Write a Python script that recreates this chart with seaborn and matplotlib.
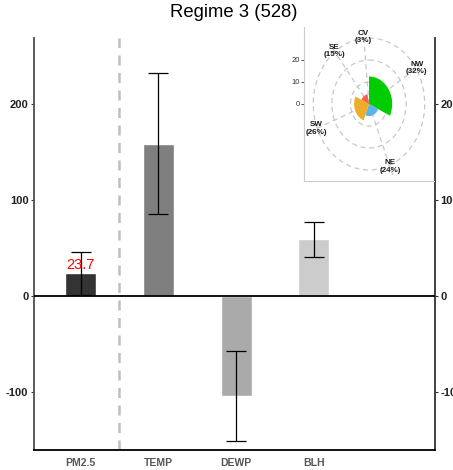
import numpy as np
import matplotlib
matplotlib.use("Agg")
import matplotlib.pyplot as plt
import seaborn as sns

# ---- data ----
categories = ["PM2.5", "TEMP", "DEWP", "BLH"]
means = [23.7, 158.5, -104.0, 59.0]
sds = [22.5, 73.5, 47.0, 18.0]
bar_colors = ["#333333", "#7F7F7F", "#AAAAAA", "#CCCCCC"]
yticks = [-100, 0, 100, 200]

wind_dirs = ["NW", "NE", "SW", "SE", "CV"]
wind_freq = [32, 24, 26, 15, 3]          # percent -> wedge width
wind_value = [12.5, 5.5, 8.0, 4.5, 0.0]  # wedge radius
wind_colors = ["#00CD00", "#5BB5E8", "#EBAE26", "#F5634A", "#9E9E9E"]
radial_ticks = [0, 10, 20]

title = "Regime 3 (528)"

# ---- style ----
sns.set_theme(style="white")
plt.rcParams["font.family"] = ["Liberation Sans", "DejaVu Sans"]

fig = plt.figure(figsize=(4.53, 4.70), dpi=100)
W, H = 453, 470

def box(x0, y0, x1, y1):
    return [x0 / W, 1 - y1 / H, (x1 - x0) / W, (y1 - y0) / H]

ax = fig.add_axes(box(34, 38, 435, 450))
ax.set_zorder(1)

sns.barplot(x=categories, y=means, hue=categories, palette=bar_colors,
            width=0.4, saturation=1, legend=False, ax=ax, errorbar=None)
ax.errorbar(x=np.arange(len(categories)), y=means, yerr=sds, fmt="none",
            ecolor="black", elinewidth=0.9, capsize=7, capthick=0.9, zorder=4)
ax.axhline(0, color="black", lw=1.3, zorder=3)
ax.axvline(0.5, color="#BFBFBF", lw=1.8, dashes=(4, 3), zorder=2)
ax.text(0, means[0] + 1, f"{means[0]}", color="red", ha="center", va="bottom",
        fontsize=10.5, zorder=5)

ax.set_xlim(-0.60, 4.56)
ax.set_ylim(-160.4, 268.75)
ax.set_yticks(yticks)
ax.set_yticklabels([str(t) for t in yticks], fontsize=8, fontweight="bold", color="#222222")
ax.set_xlabel("")
ax.set_ylabel("")
ax.tick_params(axis="x", length=0, pad=6, labelsize=7.5, labelcolor="#555555")
for lab in ax.get_xticklabels():
    lab.set_fontweight("bold")
ax.tick_params(axis="y", length=2.5, width=0.8, color="#333333", pad=1.5, left=True)
ax.spines["top"].set_visible(False)
ax.spines["left"].set_color("#4D4D4D")
ax.spines["left"].set_linewidth(1.3)
ax.spines["right"].set_color("#333333")
ax.spines["right"].set_linewidth(1.3)
ax.spines["bottom"].set_color("black")
ax.spines["bottom"].set_linewidth(1.3)

axr = ax.twinx()
axr.set_ylim(ax.get_ylim())
axr.set_yticks(yticks)
axr.set_yticklabels([str(t) for t in yticks], fontsize=8, fontweight="bold", color="#222222")
axr.tick_params(axis="y", length=2.5, width=0.8, color="#333333", pad=1.5, right=True)
for s in axr.spines.values():
    s.set_visible(False)

fig.text(0.517, 0.974, title, ha="center", va="center", fontsize=13.3, color="black")

# ---- inset wind rose ----
rmax = 35
axb = fig.add_axes(box(304, 27, 434, 181))
axb.set_zorder(2)
axb.set_facecolor("white")
axb.set_xlim(-rmax, rmax)
axb.set_ylim(-rmax, rmax)
axb.set_xticks([])
axb.set_yticks(radial_ticks)
axb.set_yticklabels([str(t) for t in radial_ticks], fontsize=5.5, color="#333333")
axb.tick_params(axis="y", length=2, width=0.6, color="#333333", pad=1, left=True)
axb.grid(False)
for k in ["top", "right"]:
    axb.spines[k].set_visible(False)
for k in ["left", "bottom"]:
    axb.spines[k].set_color("#CCCCCC")
    axb.spines[k].set_linewidth(0.8)

axp = fig.add_axes(box(304, 27, 434, 181), projection="polar")
axp.set_zorder(3)
axp.set_aspect("auto")
axp.patch.set_alpha(0)
axp.set_theta_zero_location("N")
axp.set_theta_direction(-1)
freq = np.array(wind_freq, dtype=float)
widths = freq / freq.sum() * 2 * np.pi
lefts = np.concatenate([[0], np.cumsum(widths)[:-1]])
mids = lefts + widths / 2
axp.bar(lefts, wind_value, width=widths, align="edge", color=wind_colors,
        edgecolor="none", zorder=3)
axp.set_ylim(0, rmax)
axp.set_rgrids([10, 20, 30], labels=["", "", ""])
axp.set_thetagrids(np.degrees(mids), labels=[""] * len(mids))
axp.grid(True, color="#C8C8C8", lw=0.9, linestyle=(0, (4, 3)))
axp.spines["polar"].set_visible(False)
axp.tick_params(length=0)
for d, f, m in zip(wind_dirs, wind_freq, mids):
    axp.text(m, 30.5, f"{d}\n({f}%)", ha="center", va="center", fontsize=5.8,
             fontweight="bold", color="#1A1A1A", linespacing=1.1, zorder=5)

fig.savefig("out.png", dpi=100)
